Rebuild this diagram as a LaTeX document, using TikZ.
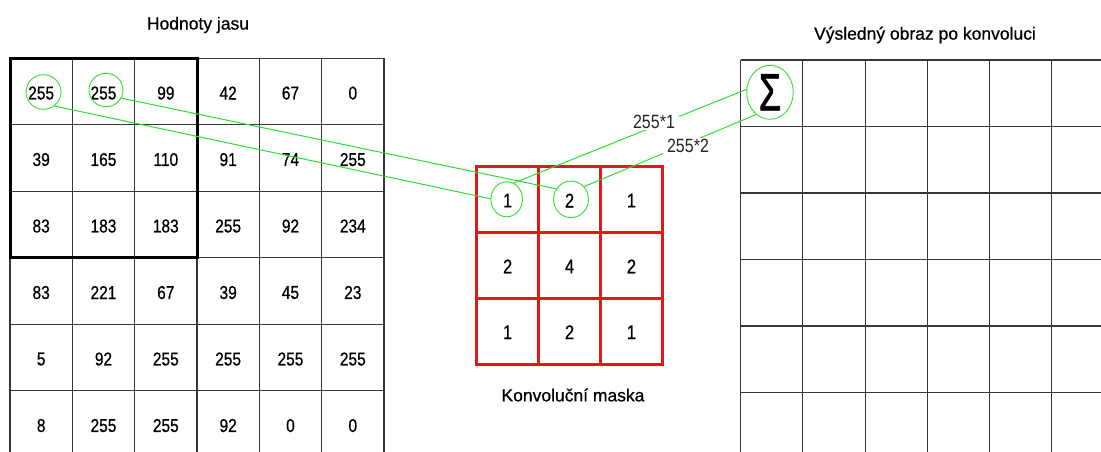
\documentclass[tikz,border=0pt]{standalone}
\usepackage{fontspec}
\usepackage{graphicx}
\setmainfont{Liberation Sans}
\newfontfamily\heavysans[FakeBold=0.7]{Liberation Sans}
\newfontfamily\sigmasans[FakeBold=1.6]{Liberation Sans}
\usetikzlibrary{shapes.geometric}
\definecolor{gridgray}{RGB}{55,55,55}
\definecolor{maskred}{RGB}{228,22,22}
\definecolor{linkgreen}{RGB}{50,222,50}
\newcommand{\tallnum}[1]{\scalebox{1}[1.2]{#1}}
\tikzset{
  gridline/.style={draw=gridgray, line width=1.1pt},
  windowbox/.style={draw=black, line width=3pt},
  maskline/.style={draw=maskred, line width=3pt},
  num/.style={inner sep=0pt, font=\heavysans\fontsize{15.5}{16}\selectfont},
  masknum/.style={inner sep=0pt, font=\heavysans\fontsize{16.5}{17}\selectfont},
  heading/.style={inner sep=0pt, font=\heavysans\fontsize{17.5}{18}\selectfont},
  ring/.style={draw=linkgreen, line width=0.9pt, ellipse, inner sep=0pt},
  link/.style={draw=linkgreen, line width=1pt},
  product/.style={fill=white, inner xsep=4pt, inner ysep=1pt,
    font=\fontsize{16}{16}\selectfont, text=black!85},
}
\begin{document}
\begin{tikzpicture}[x=1pt,y=-1pt]
\useasboundingbox (0,0) rectangle (1101,452);
\fill[white] (0,0) rectangle (1101,452);

% headings
\node[heading] (tleft) at (198,25) {Hodnoty jasu};
\node[heading] (tright) at (925,35) {Výsledný obraz po konvoluci};
\node[heading] (tmask) at (573,395) {Konvoluční maska};

\begin{scope}
  \clip (0,0) rectangle (1101,452);
  % input image grid
  \foreach \i in {0,...,6}
    \draw[gridline] ({10+62.33*\i},58.3) -- ({10+62.33*\i},460);
  \foreach \j in {0,...,5}
    \draw[gridline] (10,{58.3+66.5*\j}) -- (384,{58.3+66.5*\j});
  % output image grid
  \foreach \i in {0,...,6}
    \draw[gridline] ({740.7+62.2*\i},60) -- ({740.7+62.2*\i},460);
  \foreach \j in {0,...,5}
    \draw[gridline] (740.7,{60+66.5*\j}) -- (1110,{60+66.5*\j});
\end{scope}

% brightness values
\foreach \row [count=\r from 0] in
  {{255,255,99,42,67,0},{39,165,110,91,74,255},{83,183,183,255,92,234},
   {83,221,67,39,45,23},{5,92,255,255,255,255},{8,255,255,92,0,0}}
{
  \foreach \v [count=\c from 0] in \row
    \node[num] (L-\r-\c) at ({10+62.33*(\c+0.5)},{58.3+66.5*(\r+0.5)+1.5}) {\tallnum{\v}};
}

% 3x3 window under the mask
\draw[windowbox] (10,58.3) rectangle (197.3,257.3);

% convolution mask
\draw[maskline] (476.7,166.7) rectangle (662.4,364.1);
\draw[maskline] (538.6,166.7) -- (538.6,364.1);
\draw[maskline] (600.5,166.7) -- (600.5,364.1);
\draw[maskline] (476.7,232.5) -- (662.4,232.5);
\draw[maskline] (476.7,298.3) -- (662.4,298.3);
\foreach \row [count=\r from 0] in {{1,2,1},{2,4,2},{1,2,1}}
{
  \foreach \v [count=\c from 0] in \row
    \node[masknum] (M-\r-\c) at ({476.7+61.9*(\c+0.5)},{166.7+65.8*(\r+0.5)+1}) {\tallnum{\v}};
}

% highlighted elements
\node[ring, minimum width=35pt, minimum height=34.6pt] (la) at (43.5,92) {};
\node[ring, minimum width=34pt, minimum height=33.4pt] (lb) at (106,90) {};
\node[ring, minimum width=31.6pt, minimum height=35pt] (m1) at (506.7,199.3) {};
\node[ring, minimum width=35pt, minimum height=36.6pt] (m2) at (571,199.3) {};
\node[ring, minimum width=46.6pt, minimum height=54pt] (sig) at (770,92.3)
  {\scalebox{1}[1.45]{\sigmasans\fontsize{36}{36}\selectfont Σ}};

% products and their sum
\draw[link] (la.-52) -- (m1.178);
\draw[link] (lb.-28) -- (m2.145);
\draw[link] (m1.67) -- (sig.173);
\draw[link] (m2.44) -- (sig.-122);
\node[product] (p1) at (654,122) {\tallnum{255*1}};
\node[product] (p2) at (688,146) {\tallnum{255*2}};
\end{tikzpicture}
\end{document}
